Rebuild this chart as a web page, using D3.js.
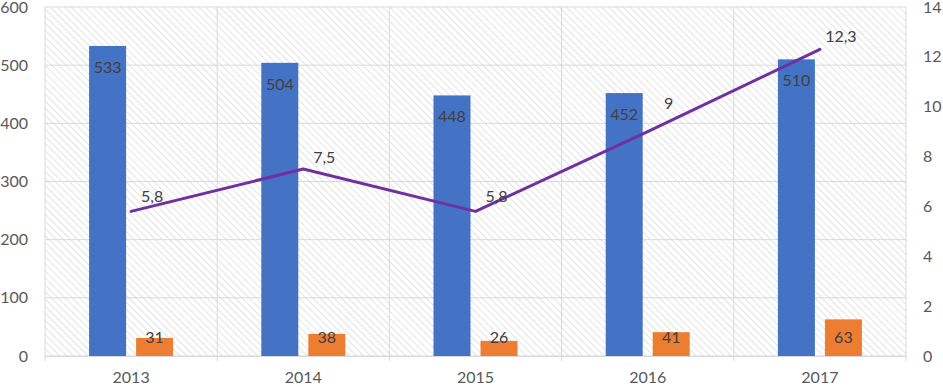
<!DOCTYPE html>
<html>
<head>
<meta charset="utf-8">
<script src="https://cdn.jsdelivr.net/npm/d3@7"></script>
<style>
  body { margin: 0; background: #fff; }
  text { font-family: Lato, "Open Sans", sans-serif; }
</style>
</head>
<body>
<svg width="943" height="387"></svg>
<script>
// chart data
const years = ['2013', '2014', '2015', '2016', '2017'];
const blueValues = [533, 504, 448, 452, 510];
const orangeValues = [31, 38, 26, 41, 63];
const lineValues = [5.8, 7.5, 5.8, 9, 12.3];
const leftTicks = [0, 100, 200, 300, 400, 500, 600];
const rightTicks = [0, 2, 4, 6, 8, 10, 12, 14];

const svg = d3.select('svg');
const plotLeft = 45, plotRight = 906, plotTop = 7, plotBottom = 356;

// hatched background pattern (lines running top-left to bottom-right)
const defs = svg.append('defs');
const pat = defs.append('pattern')
    .attr('id', 'hatch')
    .attr('patternUnits', 'userSpaceOnUse')
    .attr('width', 5).attr('height', 5)
    .attr('patternTransform', 'rotate(-45)');
pat.append('line')
    .attr('x1', 0).attr('y1', 0).attr('x2', 0).attr('y2', 5)
    .attr('stroke', '#d0d0d0').attr('stroke-width', 1.2);

svg.append('rect')
    .attr('x', plotLeft).attr('y', plotTop)
    .attr('width', plotRight - plotLeft).attr('height', plotBottom - plotTop)
    .attr('fill', 'url(#hatch)');

// scales
const x = d3.scaleBand().domain(years).range([plotLeft, plotRight]);
const xs = d3.scaleBand().domain(['blue', 'orange'])
    .range([x.bandwidth() / 2 - 42, x.bandwidth() / 2 + 42])
    .paddingInner(0.213);
const yL = d3.scaleLinear().domain([0, 600]).range([plotBottom, plotTop]);
const yR = d3.scaleLinear().domain([0, 14]).range([plotBottom, plotTop]);

// gridlines
svg.append('g').selectAll('line')
    .data(leftTicks)
    .enter().append('line')
    .attr('x1', plotLeft).attr('x2', plotRight)
    .attr('y1', d => yL(d)).attr('y2', d => yL(d))
    .attr('stroke', '#d9d9d9').attr('stroke-width', 1);

const bounds = years.map(d => x(d)).concat([plotRight]);
svg.append('g').selectAll('line')
    .data(bounds)
    .enter().append('line')
    .attr('x1', d => d).attr('x2', d => d)
    .attr('y1', plotTop).attr('y2', plotBottom + 5)
    .attr('stroke', '#d9d9d9').attr('stroke-width', 1);

// bars
svg.append('g').selectAll('rect')
    .data(years)
    .enter().append('rect')
    .attr('x', d => x(d) + xs('blue'))
    .attr('width', xs.bandwidth())
    .attr('y', (d, i) => yL(blueValues[i]))
    .attr('height', (d, i) => plotBottom - yL(blueValues[i]))
    .attr('fill', '#4472C4');

svg.append('g').selectAll('rect')
    .data(years)
    .enter().append('rect')
    .attr('x', d => x(d) + xs('orange'))
    .attr('width', xs.bandwidth())
    .attr('y', (d, i) => yL(orangeValues[i]))
    .attr('height', (d, i) => plotBottom - yL(orangeValues[i]))
    .attr('fill', '#ED7D31');

// bar labels
svg.append('g').selectAll('text')
    .data(years)
    .enter().append('text')
    .attr('x', d => x(d) + xs('blue') + xs.bandwidth() / 2)
    .attr('y', (d, i) => yL(blueValues[i]) + 27)
    .attr('text-anchor', 'middle')
    .attr('font-size', 16)
    .attr('fill', '#404040')
    .text((d, i) => blueValues[i]);

svg.append('g').selectAll('text')
    .data(years)
    .enter().append('text')
    .attr('x', d => x(d) + xs('orange') + xs.bandwidth() / 2)
    .attr('y', plotBottom - 13)
    .attr('text-anchor', 'middle')
    .attr('font-size', 16)
    .attr('fill', '#404040')
    .text((d, i) => orangeValues[i]);

// line
const cx = d => x(d) + x.bandwidth() / 2;
const line = d3.line()
    .x(d => cx(d[0]))
    .y(d => yR(d[1]));
svg.append('path')
    .datum(years.map((d, i) => [d, lineValues[i]]))
    .attr('d', line)
    .attr('fill', 'none')
    .attr('stroke', '#7030A0')
    .attr('stroke-width', 3)
    .attr('stroke-linejoin', 'round')
    .attr('stroke-linecap', 'round');

// line labels (vertical nudges per label)
const lineLabelDy = [-9, -6, -9, -23, -7];
svg.append('g').selectAll('text')
    .data(years)
    .enter().append('text')
    .attr('x', d => cx(d) + 21)
    .attr('y', (d, i) => yR(lineValues[i]) + lineLabelDy[i])
    .attr('text-anchor', 'middle')
    .attr('font-size', 16)
    .attr('fill', '#404040')
    .text((d, i) => String(lineValues[i]).replace('.', ','));

// axes
const xAxis = d3.axisBottom(x).tickSize(0).tickPadding(16);
const gx = svg.append('g')
    .attr('transform', 'translate(0,' + plotBottom + ')')
    .call(xAxis);
gx.select('.domain').attr('stroke', '#d9d9d9');
gx.selectAll('text').attr('font-size', 16).attr('fill', '#595959')
    .attr('font-family', 'Lato, sans-serif');

const yAxisL = d3.axisLeft(yL).tickValues(leftTicks).tickSize(0).tickPadding(17);
const gl = svg.append('g')
    .attr('transform', 'translate(' + plotLeft + ',0)')
    .call(yAxisL);
gl.select('.domain').remove();
gl.selectAll('text').attr('font-size', 16).attr('fill', '#595959')
    .attr('font-family', 'Lato, sans-serif');

const yAxisR = d3.axisRight(yR).tickValues(rightTicks).tickSize(0).tickPadding(17);
const gr = svg.append('g')
    .attr('transform', 'translate(' + plotRight + ',0)')
    .call(yAxisR);
gr.select('.domain').remove();
gr.selectAll('text').attr('font-size', 16).attr('fill', '#595959')
    .attr('font-family', 'Lato, sans-serif');
</script>
</body>
</html>
